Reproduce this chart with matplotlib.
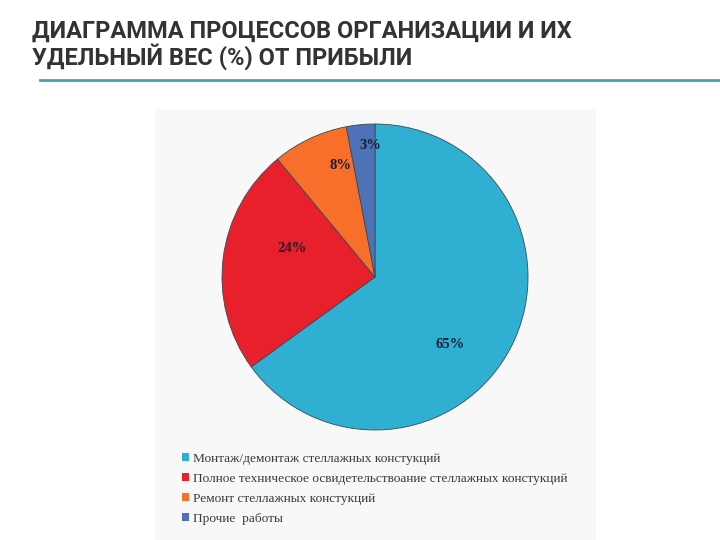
import matplotlib
matplotlib.use("Agg")
import matplotlib.pyplot as plt
import numpy as np

categories = [
    "Монтаж/демонтаж стеллажных констукций",
    "Полное техническое освидетельствоание стеллажных констукций",
    "Ремонт стеллажных констукций",
    "Прочие  работы",
]
values = [65, 24, 8, 3]
colors = ["#2fb0d3", "#e8202b", "#f86f2a", "#4d72b8"]
label_dist = [0.66, 0.575, 0.765, 0.857]
label_shift = [-15.0, -12.0, -8.3, -3.2]
title_lines = ["ДИАГРАММА ПРОЦЕССОВ ОРГАНИЗАЦИИ И ИХ", "УДЕЛЬНЫЙ ВЕС (%) ОТ ПРИБЫЛИ"]

W, H = 720, 540
fig = plt.figure(figsize=(W / 100, H / 100), dpi=100)
fig.patch.set_facecolor("white")

# light panel behind the chart
bg = fig.add_axes([155 / W, 0, (596 - 155) / W, (540 - 109) / H])
bg.set_facecolor("#f8f8f8")
bg.set_xticks([]); bg.set_yticks([])
for s in bg.spines.values():
    s.set_visible(False)

# title
for i, line in enumerate(title_lines):
    fig.text(32 / W, 1 - (31 + 26 * i) / H, line, fontsize=17, fontweight="bold",
             color="#333333", family="Roboto", va="center", ha="left")
fig.add_artist(plt.Line2D([40 / W, 1.0], [1 - 80 / H, 1 - 80 / H], color="#4a9fb5", lw=2))

# pie
cx, cy, r = 375, 277, 153
ax = fig.add_axes([(cx - r) / W, (H - cy - r) / H, 2 * r / W, 2 * r / H])
wedges, _ = ax.pie(values, colors=colors, startangle=90, counterclock=False,
                   wedgeprops=dict(edgecolor="#3a4a55", linewidth=0.6))
ax.set_xlim(-1, 1); ax.set_ylim(-1, 1); ax.set_aspect("equal")
ax.axis("off")
for w, v, d, s in zip(wedges, values, label_dist, label_shift):
    ang = np.deg2rad((w.theta1 + w.theta2) / 2 + s)
    ax.text(d * np.cos(ang), d * np.sin(ang), f"{v}%", ha="center", va="center",
            fontsize=10.5, fontweight="bold", family="Liberation Serif", color="#1b1b2a")

leg = fig.legend(wedges, categories, loc="upper left", bbox_to_anchor=(182 / W, 1 - 453 / H),
                 frameon=False, prop=dict(family="Liberation Serif", size=9.6),
                 handlelength=0.55, handleheight=0.55, handletextpad=0.3,
                 labelspacing=0.6, borderaxespad=0, borderpad=0)
for t in leg.get_texts():
    t.set_color("#3a3a3a")
for h in leg.legend_handles:
    h.set_linewidth(0)

fig.savefig("out.png", dpi=100)
